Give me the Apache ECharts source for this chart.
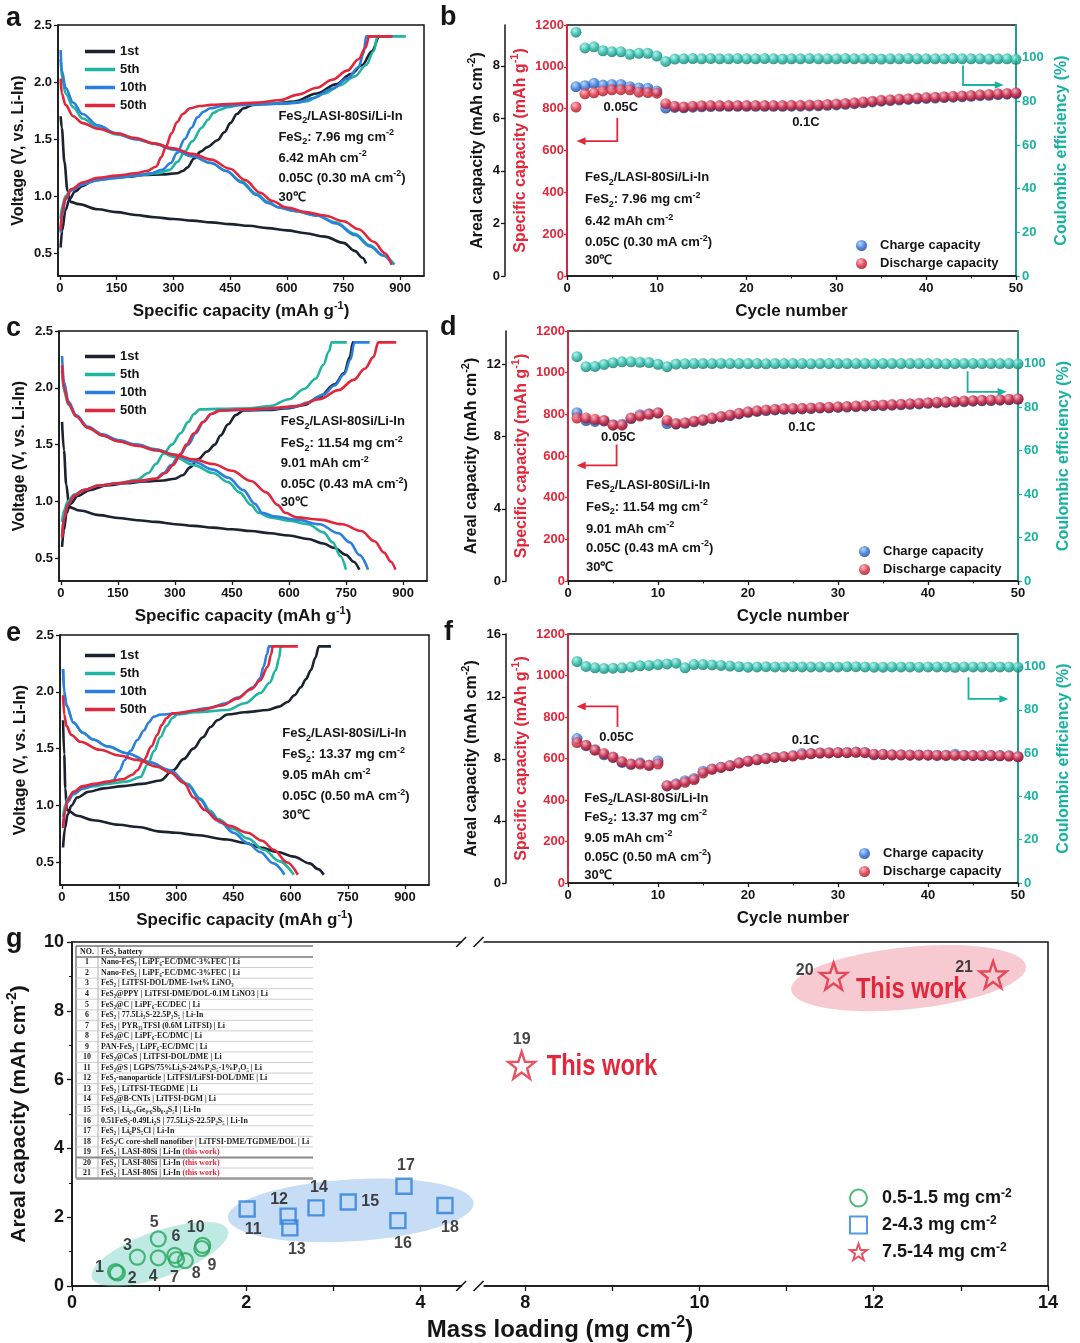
<!DOCTYPE html>
<html><head><meta charset="utf-8">
<script src="https://cdn.jsdelivr.net/npm/echarts@6/dist/echarts.min.js"></script>
<style>html,body{margin:0;padding:0;background:#fff}#c{width:1080px;height:1343px}</style>
</head><body><div id="c"></div>
<script>
// ---------------- DATA ----------------
// Panel a (7.96 mg cm-2) voltage profiles [capacity mAh/g, V]
const a1Dis = [[2,1.7],[5,1.6],[12,1.3],[20,1.05],[28,0.95],[50,0.93],[100,0.885],[150,0.86],[200,0.835],[250,0.815],[300,0.8],[350,0.785],[400,0.77],[450,0.755],[500,0.74],[550,0.72],[600,0.7],[650,0.675],[700,0.645],[750,0.59],[780,0.52],[800,0.46],[810,0.41]];
const a1Chg = [[2,0.55],[6,0.7],[15,0.88],[25,0.97],[40,1.04],[60,1.09],[90,1.14],[130,1.16],[180,1.17],[222,1.185],[270,1.19],[310,1.2],[325,1.22],[337,1.25],[355,1.33],[372,1.39],[390,1.43],[417,1.49],[435,1.56],[451,1.64],[468,1.72],[486,1.77],[510,1.8],[560,1.81],[620,1.83],[680,1.9],[730,1.98],[770,2.07],[800,2.15],[825,2.27],[845,2.4],[852,2.4]];
const a5Dis = [[2,2.2],[5,2.05],[15,1.9],[35,1.78],[60,1.68],[100,1.6],[150,1.54],[200,1.5],[250,1.46],[300,1.41],[350,1.35],[400,1.29],[440,1.22],[480,1.13],[520,1.02],[550,0.95],[580,0.9],[620,0.87],[680,0.83],[730,0.77],[780,0.67],[820,0.57],[855,0.48],[885,0.4]];
const a5Chg = [[2,0.8],[5,0.9],[15,1.0],[30,1.06],[60,1.11],[100,1.14],[150,1.16],[200,1.18],[260,1.2],[290,1.23],[311,1.3],[330,1.39],[350,1.48],[375,1.6],[392,1.67],[406,1.73],[425,1.76],[443,1.78],[480,1.8],[540,1.81],[600,1.815],[650,1.83],[700,1.9],[740,1.97],[780,2.05],[810,2.15],[830,2.27],[840,2.4],[915,2.4]];
const a10Dis = [[2,2.28],[5,2.1],[15,1.95],[35,1.82],[60,1.72],[100,1.62],[150,1.55],[200,1.5],[250,1.46],[300,1.41],[350,1.35],[400,1.29],[440,1.22],[480,1.12],[520,1.01],[550,0.94],[580,0.9],[620,0.87],[680,0.83],[730,0.76],[780,0.66],[820,0.56],[855,0.48],[880,0.4]];
const a10Chg = [[2,0.68],[5,0.82],[15,0.97],[30,1.05],[60,1.1],[100,1.14],[150,1.16],[200,1.18],[240,1.2],[270,1.23],[293,1.29],[310,1.38],[330,1.5],[348,1.6],[364,1.69],[380,1.74],[398,1.77],[430,1.79],[470,1.8],[540,1.805],[590,1.81],[630,1.82],[670,1.86],[720,1.94],[760,2.03],[790,2.13],[803,2.25],[810,2.4],[878,2.4]];
const a50Dis = [[2,2.03],[5,1.9],[15,1.8],[35,1.7],[60,1.64],[100,1.59],[150,1.55],[200,1.51],[250,1.46],[300,1.42],[350,1.37],[400,1.32],[450,1.24],[490,1.14],[530,1.03],[560,0.96],[600,0.9],[650,0.86],[700,0.83],[750,0.78],[790,0.71],[830,0.6],[860,0.5],[877,0.4]];
const a50Chg = [[2,0.7],[5,0.85],[15,0.98],[30,1.06],[60,1.12],[100,1.16],[150,1.18],[200,1.2],[230,1.22],[255,1.26],[268,1.34],[280,1.43],[295,1.55],[310,1.65],[325,1.72],[345,1.77],[370,1.79],[400,1.8],[460,1.81],[520,1.82],[580,1.84],[630,1.89],[680,1.95],[720,2.02],[760,2.1],[790,2.2],[808,2.3],[818,2.4],[880,2.4]];
// Panel c (11.54 mg cm-2)
const c1Dis = [[3,1.7],[8,1.45],[14,1.15],[22,0.95],[50,0.92],[100,0.88],[150,0.855],[200,0.835],[250,0.82],[300,0.8],[350,0.785],[400,0.77],[450,0.755],[500,0.74],[550,0.72],[600,0.7],[650,0.67],[690,0.63],[720,0.59],[750,0.53],[770,0.47],[785,0.4]];
const c1Chg = [[3,0.6],[8,0.75],[15,0.9],[25,0.98],[45,1.05],[75,1.1],[120,1.14],[170,1.16],[220,1.175],[270,1.185],[300,1.2],[320,1.23],[340,1.3],[360,1.37],[385,1.44],[405,1.5],[420,1.58],[440,1.68],[460,1.76],[480,1.8],[540,1.805],[600,1.82],[640,1.85],[680,1.92],[720,2.03],[745,2.13],[760,2.27],[768,2.4],[775,2.4]];
const c5Dis = [[3,2.15],[8,1.97],[20,1.85],[40,1.75],[70,1.65],[110,1.58],[150,1.53],[200,1.5],[250,1.45],[300,1.39],[350,1.32],[400,1.25],[440,1.17],[470,1.08],[500,0.97],[520,0.9],[550,0.86],[600,0.83],[650,0.8],[690,0.73],[715,0.64],[735,0.52],[750,0.4]];
const c5Chg = [[3,0.82],[8,0.92],[18,1.0],[35,1.06],[60,1.1],[100,1.14],[150,1.16],[200,1.19],[230,1.25],[250,1.33],[270,1.42],[292,1.5],[315,1.6],[335,1.7],[350,1.77],[365,1.81],[420,1.815],[500,1.82],[550,1.84],[600,1.9],[640,1.99],[670,2.08],[690,2.2],[705,2.32],[712,2.4],[752,2.4]];
const c10Dis = [[3,2.28],[8,2.05],[20,1.88],[40,1.76],[70,1.66],[110,1.59],[150,1.54],[200,1.5],[250,1.46],[300,1.41],[350,1.35],[400,1.28],[440,1.21],[480,1.1],[510,0.98],[530,0.9],[560,0.87],[620,0.84],[680,0.8],[730,0.72],[760,0.64],[785,0.53],[808,0.4]];
const c10Chg = [[3,0.7],[8,0.85],[18,0.97],[35,1.05],[60,1.1],[100,1.14],[150,1.16],[200,1.175],[250,1.2],[270,1.25],[290,1.32],[310,1.4],[335,1.5],[355,1.6],[375,1.7],[395,1.77],[415,1.8],[480,1.805],[550,1.815],[610,1.83],[650,1.87],[690,1.94],[720,2.02],[745,2.12],[762,2.25],[772,2.4],[812,2.4]];
const c50Dis = [[3,2.2],[8,2.0],[20,1.86],[40,1.75],[70,1.65],[110,1.58],[150,1.53],[200,1.49],[250,1.45],[300,1.41],[350,1.37],[400,1.33],[450,1.27],[500,1.18],[540,1.08],[570,0.97],[590,0.9],[620,0.86],[680,0.84],[740,0.8],[790,0.74],[825,0.65],[850,0.55],[868,0.47],[880,0.4]];
const c50Chg = [[3,0.68],[8,0.85],[18,0.97],[35,1.05],[60,1.1],[100,1.14],[150,1.16],[200,1.18],[250,1.2],[275,1.25],[295,1.32],[315,1.42],[330,1.5],[350,1.6],[375,1.7],[395,1.77],[420,1.8],[480,1.81],[550,1.82],[620,1.84],[680,1.9],[730,1.98],[770,2.07],[800,2.17],[822,2.27],[835,2.4],[882,2.4]];
// Panel e (13.37 mg cm-2)
const e1Dis = [[3,1.75],[6,1.45],[9,1.15],[13,0.96],[40,0.91],[82,0.87],[150,0.83],[200,0.81],[258,0.77],[300,0.76],[350,0.74],[434,0.7],[480,0.67],[521,0.63],[565,0.59],[608,0.55],[650,0.49],[672,0.44],[687,0.39]];
const e1Chg = [[3,0.63],[8,0.8],[15,0.92],[25,1.0],[40,1.07],[70,1.12],[110,1.15],[160,1.17],[210,1.19],[258,1.22],[292,1.31],[320,1.41],[345,1.5],[370,1.6],[390,1.69],[408,1.75],[434,1.8],[480,1.82],[540,1.84],[570,1.87],[592,1.91],[610,1.97],[627,2.04],[640,2.11],[653,2.19],[665,2.3],[674,2.4],[706,2.4]];
const e5Dis = [[3,2.2],[6,2.0],[12,1.88],[30,1.73],[55,1.64],[82,1.58],[120,1.52],[171,1.46],[230,1.38],[284,1.31],[330,1.19],[363,1.06],[390,0.95],[410,0.88],[450,0.79],[487,0.71],[530,0.61],[570,0.51],[608,0.39]];
const e5Chg = [[3,0.9],[8,1.0],[15,1.06],[30,1.11],[55,1.15],[85,1.17],[120,1.19],[170,1.21],[206,1.25],[225,1.36],[242,1.48],[258,1.6],[275,1.7],[290,1.77],[303,1.8],[350,1.82],[434,1.84],[480,1.9],[521,1.99],[545,2.08],[561,2.19],[570,2.3],[574,2.4],[580,2.4]];
const e10Dis = [[3,2.2],[6,2.0],[12,1.88],[30,1.73],[55,1.64],[82,1.58],[120,1.52],[171,1.46],[230,1.38],[284,1.31],[330,1.18],[363,1.05],[390,0.93],[416,0.85],[450,0.76],[487,0.67],[520,0.59],[555,0.49],[584,0.39]];
const e10Chg = [[3,0.82],[8,0.95],[15,1.03],[30,1.1],[55,1.15],[85,1.18],[115,1.2],[134,1.22],[150,1.3],[165,1.4],[180,1.48],[198,1.576],[215,1.66],[228,1.73],[240,1.78],[260,1.8],[303,1.81],[390,1.86],[430,1.9],[461,1.95],[503,2.04],[520,2.12],[529,2.22],[538,2.33],[543,2.4],[556,2.4]];
const e50Dis = [[3,1.97],[6,1.8],[12,1.7],[25,1.62],[48,1.56],[100,1.49],[150,1.44],[198,1.4],[250,1.34],[284,1.29],[320,1.2],[345,1.07],[375,0.96],[408,0.87],[440,0.82],[487,0.76],[525,0.69],[556,0.61],[590,0.5],[619,0.39]];
const e50Chg = [[3,0.8],[8,0.95],[15,1.05],[30,1.12],[55,1.17],[85,1.19],[120,1.21],[160,1.23],[185,1.27],[198,1.31],[215,1.4],[235,1.52],[250,1.62],[262,1.71],[275,1.77],[290,1.81],[363,1.84],[420,1.88],[460,1.94],[495,2.02],[520,2.1],[540,2.22],[549,2.33],[553,2.4],[619,2.4]];

// Cycling data (b, d, f)
const cycles = [1,2,3,4,5,6,7,8,9,10,11,12,13,14,15,16,17,18,19,20,21,22,23,24,25,26,27,28,29,30,31,32,33,34,35,36,37,38,39,40,41,42,43,44,45,46,47,48,49,50];
const bCharge = [905,910,921,913,915,916,905,899,898,885,803,806,804,807,809,810,811,811,811,811,811,811,811,811,812,812,813,814,816,818,821,824,828,832,836,839,842,844,847,849,851,853,855,857,859,862,864,867,869,872];
const bDischarge = [808,871,876,885,890,891,890,879,877,874,824,811,808,812,814,815,815,815,815,815,815,815,815,815,816,816,817,818,820,822,825,828,832,836,840,843,846,848,851,853,855,857,859,861,863,866,868,871,873,876];
const bCE = [111.7,104.5,105.0,103.2,102.8,102.7,101.6,102.0,102.0,100.8,98.3,99.4,99.5,99.6,99.5,99.6,99.5,99.5,99.6,99.5,99.5,99.6,99.5,99.4,99.5,99.5,99.6,99.5,99.5,99.5,99.6,99.5,99.5,99.5,99.4,99.5,99.5,99.6,99.5,99.5,99.5,99.5,99.6,99.5,99.5,99.5,99.4,99.5,99.5,99.3];
const dCharge = [808,770,766,768,750,753,780,798,803,806,756,753,757,764,771,779,787,794,802,809,814,818,821,824,825,826,828,830,831,833,835,837,839,841,842,844,846,848,850,853,855,857,859,861,863,865,866,868,870,872];
const dDischarge = [782,782,776,771,748,748,782,792,800,808,771,756,760,767,774,782,790,797,805,812,817,821,824,827,828,829,831,833,834,836,838,840,842,844,845,847,849,851,853,856,858,860,862,864,866,868,869,871,873,875];
const dCE = [103.2,98.6,98.7,99.6,100.4,100.8,100.8,100.6,100.5,99.7,98.6,99.8,99.9,100.0,100.0,100.0,100.1,100.0,100.0,100.0,100.0,99.9,100.0,100.0,100.0,100.0,99.9,100.0,100.0,100.0,100.0,100.0,100.0,99.9,100.0,100.0,100.0,100.0,100.0,100.0,100.0,99.9,100.0,100.0,100.0,100.0,100.0,100.0,100.0,99.9];
const fCharge = [696,662,642,618,605,581,572,579,568,588,468,478,493,504,539,550,558,566,579,588,595,601,606,609,613,624,624,627,628,629,629,631,629,618,620,618,618,617,617,617,616,616,620,616,615,615,615,614,613,609];
const fDischarge = [677,664,640,624,607,585,573,573,567,573,469,474,485,498,530,548,557,565,578,587,594,600,605,608,612,618,623,626,627,628,628,630,628,621,619,617,617,616,616,616,615,615,615,615,614,614,614,613,612,608];
const fCE = [102.3,100.0,99.4,99.1,99.2,99.4,99.8,100.3,100.5,100.9,101.2,101.5,99.4,100.9,100.9,100.7,100.5,100.2,99.9,99.7,99.8,99.9,99.8,99.8,99.9,99.8,99.8,99.8,99.8,99.8,99.9,99.9,99.8,99.7,99.7,99.8,99.8,99.8,99.7,99.8,99.8,99.8,99.6,99.8,99.8,99.8,99.8,99.8,99.8,99.7];
const loadings = [7.96, 11.54, 13.37];      // mg cm-2 for b, d, f
const arealCap = ['6.42', '9.01', '9.05'];  // mAh cm-2
const currents = ['0.30', '0.43', '0.50'];  // mA cm-2

// Panel g comparison
const circlePts = [[0.5,0.42],[0.52,0.38],[0.75,0.84],[0.99,0.82],[0.99,1.37],[1.18,0.89],[1.2,0.77],[1.3,0.74],[1.49,1.09],[1.5,1.18]];
const circleNo = ['1','2','3','4','5','6','7','8','9','10'];
const squarePts = [[2.01,2.24],[2.48,2.03],[2.5,1.69],[2.8,2.27],[3.17,2.44],[3.74,1.9],[3.81,2.9],[4.28,2.34]];
const squareNo = ['11','12','13','14','15','16','17','18'];
const starPts = [[7.96,6.42],[11.54,9.01],[13.37,9.05]];
const starNo = ['19','20','21'];
const gNames = ['0.5-1.5 mg cm-2', '2-4.3 mg cm-2', '7.5-14 mg cm-2'];
const gXLabels = [0, 2, 4, 8, 10, 12, 14];
const gXMinor = [1, 3, 9, 11, 13];
const tableRows = [
 'Nano-FeS₂ | LiPF₆-EC/DMC-3%FEC | Li','Nano-FeS₂ | LiPF₆-EC/DMC-3%FEC | Li','FeS₂ | LiTFSI-DOL/DME-1wt% LiNO₃',
 'FeS₂@PPY | LiTFSI-DME/DOL-0.1M LiNO3 | Li','FeS₂@C | LiPF₆-EC/DEC | Li','FeS₂ | 77.5Li₂S-22.5P₂S₅ | Li-In',
 'FeS₂ | PYR₁₃TFSI (0.6M LiTFSI) | Li','FeS₂@C | LiPF₆-EC/DMC | Li','PAN-FeS₂ | LiPF₆-EC/DMC | Li',
 'FeS₂@CoS | LiTFSI-DOL/DME | Li','FeS₂@S | LGPS/75%Li₂S-24%P₂S₅-1%P₂O₅ | Li','FeS₂-nanoparticle | LiTFSI/LiFSI-DOL/DME | Li',
 'FeS₂ | LiTFSI-TEGDME | Li','FeS₂@B-CNTs | LiTFSI-DGM | Li','FeS₂ | Li₆.₆Ge₀.₆Sb₀.₄S₅I | Li-In',
 '0.51FeS₂-0.49Li₂S | 77.5Li₂S-22.5P₂S₅ | Li-In','FeS₂ | Li₆PS₅Cl | Li-In','FeS₂/C core-shell nanofiber | LiTFSI-DME/TGDME/DOL | Li',
 'FeS₂ | LASI-80Si | Li-In','FeS₂ | LASI-80Si | Li-In','FeS₂ | LASI-80Si | Li-In'];

// ---------------- STYLE ----------------
const FONT = '"Liberation Sans", Arial, Helvetica, sans-serif';
const NARROW = '"Liberation Sans Narrow", "Liberation Sans", Arial, sans-serif';
const SERIF = '"Liberation Serif", "Times New Roman", serif';
const BLACK = '#151515', RED = '#e2273b', TEAL = '#19b2a0', BLUE = '#2a80dc', GREEN = '#26a65b', DARK = '#1b2230';
const CYC_COL = {'1st': DARK, '5th': '#1fb5a0', '10th': '#2b7fdd', '50th': '#e2263b'};
// axis break in panel g (mg cm-2)
const BRK_LO = 4.5, BRK_HI = 7.5, BRK_GAP = 0.2;
const gx = x => x <= BRK_LO ? x : x - (BRK_HI - BRK_LO) + BRK_GAP;
const gxInv = v => v <= BRK_LO + 0.01 ? v : v + (BRK_HI - BRK_LO) - BRK_GAP;

function rich(size, color, family) {
  const s = Math.round(size * 0.66);
  return {
    sup: {fontSize: s, fontWeight: 'bold', fontFamily: family, color: color, verticalAlign: 'top'},
    sub: {fontSize: s, fontWeight: 'bold', fontFamily: family, color: color, verticalAlign: 'bottom'}
  };
}
function nameStyle(size, color, family, lh) {
  return {fontSize: size, fontWeight: 'bold', fontFamily: family || FONT, color: color, lineHeight: lh || Math.round(size * 1.35), rich: rich(size, color, family || FONT)};
}
function lbl(color, size, family) { return {fontSize: size || 13, fontWeight: 'bold', fontFamily: family || FONT, color: color}; }
function sphere(light, base, dark) {
  return {type: 'radial', x: 0.38, y: 0.32, r: 0.72, colorStops: [{offset: 0, color: light}, {offset: 0.55, color: base}, {offset: 1, color: dark}]};
}

const grids = [
  {left: 58, top: 25, width: 366, height: 251},
  {left: 567, top: 25, width: 449, height: 251},
  {left: 59, top: 331, width: 368, height: 250},
  {left: 568, top: 331, width: 450, height: 250},
  {left: 60, top: 635, width: 369, height: 250},
  {left: 568, top: 634, width: 450, height: 249},
  {left: 72, top: 942, width: 976, height: 344}
].map(g => Object.assign({show: true, borderColor: BLACK, borderWidth: 1.5, backgroundColor: 'transparent', outerBoundsMode: 'none', containLabel: false}, g));

const xAxes = [], yAxes = [], series = [];
const capTicks = [0, 150, 300, 450, 600, 750, 900];
const vTicks = [0.5, 1.0, 1.5, 2.0, 2.5];

function leftPanel(gi, curves) {
  const xi = xAxes.length, yi = yAxes.length;
  xAxes.push({gridIndex: gi, type: 'value', min: -5, max: 963,
    axisLine: {show: true, onZero: false, lineStyle: {color: BLACK, width: 1.5}},
    axisTick: {show: true, length: 4, customValues: capTicks, lineStyle: {color: BLACK, width: 1.3}},
    axisLabel: Object.assign({customValues: capTicks, margin: 6}, lbl(BLACK, 13)),
    splitLine: {show: false},
    name: 'Specific capacity (mAh g{sup|-1})', nameLocation: 'middle', nameGap: 24, nameTextStyle: nameStyle(17, BLACK, FONT, 22)});
  yAxes.push({gridIndex: gi, type: 'value', min: 0.3, max: 2.5,
    axisLine: {show: true, onZero: false, lineStyle: {color: BLACK, width: 1.5}},
    axisTick: {show: true, length: 4, customValues: vTicks, lineStyle: {color: BLACK, width: 1.3}},
    axisLabel: Object.assign({customValues: vTicks, margin: 6, formatter: v => v.toFixed(1)}, lbl(BLACK, 13)),
    splitLine: {show: false},
    name: 'Voltage (V, vs. Li-In)', nameLocation: 'middle', nameRotate: 90, nameGap: 24, nameTextStyle: nameStyle(16, BLACK)});
  curves.forEach(([name, dis, chg]) => {
    [dis, chg].forEach(d => series.push({type: 'line', name: name, xAxisIndex: xi, yAxisIndex: yi, data: d,
      symbol: 'none', showSymbol: false, smooth: 0.35, smoothMonotone: 'x', clip: true,
      lineStyle: {color: CYC_COL[name], width: 2.6}, itemStyle: {color: CYC_COL[name]}}));
  });
}

function rightPanel(gi, loading, charge, discharge, ce, arealTicks) {
  const xi = xAxes.length, yi = yAxes.length;
  xAxes.push({gridIndex: gi, type: 'value', min: 0, max: 50, interval: 10,
    axisLine: {show: true, onZero: false, lineStyle: {color: BLACK, width: 1.5}},
    axisTick: {show: true, length: 4, lineStyle: {color: BLACK, width: 1.3}},
    minorTick: {show: true, splitNumber: 2, length: 2.5, lineStyle: {color: BLACK, width: 1}},
    axisLabel: Object.assign({margin: 6}, lbl(BLACK, 13)), splitLine: {show: false},
    name: 'Cycle number', nameLocation: 'middle', nameGap: 24, nameTextStyle: nameStyle(17, BLACK, FONT, 22)});
  // specific capacity (red)
  yAxes.push({gridIndex: gi, type: 'value', position: 'left', min: 0, max: 1200, interval: 200,
    axisLine: {show: true, onZero: false, lineStyle: {color: RED, width: 1.6}},
    axisTick: {show: true, length: 3, lineStyle: {color: RED, width: 1.3}},
    axisLabel: Object.assign({margin: 3, formatter: v => String(v)}, lbl(RED, 13)), splitLine: {show: false},
    name: 'Specific capacity (mAh g{sup|-1})', nameLocation: 'middle', nameRotate: 90, nameGap: 32, nameTextStyle: nameStyle(16, RED)});
  // areal capacity (black, offset)
  const aMax = 1200 * loading / 1000;
  yAxes.push({gridIndex: gi, type: 'value', position: 'left', offset: 62, min: 0, max: aMax,
    axisLine: {show: true, onZero: false, lineStyle: {color: BLACK, width: 1.5}},
    axisTick: {show: true, length: 4, customValues: arealTicks, lineStyle: {color: BLACK, width: 1.3}},
    axisLabel: Object.assign({customValues: arealTicks, margin: 5, formatter: v => String(v)}, lbl(BLACK, 13)), splitLine: {show: false},
    name: 'Areal capacity (mAh cm{sup|-2})', nameLocation: 'middle', nameRotate: 90, nameGap: 14, nameTextStyle: nameStyle(16, BLACK)});
  // coulombic efficiency (teal)
  const ceTicks = [0, 20, 40, 60, 80, 100];
  yAxes.push({gridIndex: gi, type: 'value', position: 'right', min: 0, max: 115,
    axisLine: {show: true, onZero: false, lineStyle: {color: TEAL, width: 1.6}},
    axisTick: {show: true, length: 4, customValues: ceTicks, lineStyle: {color: TEAL, width: 1.3}},
    axisLabel: Object.assign({customValues: ceTicks, margin: 6}, lbl(TEAL, 13)), splitLine: {show: false},
    name: 'Coulombic efficiency (%)', nameLocation: 'middle', nameRotate: 90, nameGap: 35, nameTextStyle: nameStyle(16, TEAL)});
  const pair = arr => cycles.map((c, i) => [c, arr[i]]);
  series.push({type: 'scatter', name: 'Charge capacity', xAxisIndex: xi, yAxisIndex: yi, data: pair(charge), symbolSize: 11,
    itemStyle: {color: sphere('#a9cdff', '#2a6fd8', '#123f8a')}, z: 3});
  series.push({type: 'scatter', name: 'Discharge capacity', xAxisIndex: xi, yAxisIndex: yi, data: pair(discharge), symbolSize: 11,
    itemStyle: {color: sphere('#ffb0b8', '#e0283b', '#8e0f1d')}, z: 4});
  series.push({type: 'scatter', name: 'Coulombic efficiency', xAxisIndex: xi, yAxisIndex: yi + 2, data: pair(ce), symbolSize: 11,
    itemStyle: {color: sphere('#a2eee3', '#1bb3a0', '#0d6f63')}, z: 3});
}

leftPanel(0, [['1st', a1Dis, a1Chg], ['5th', a5Dis, a5Chg], ['10th', a10Dis, a10Chg], ['50th', a50Dis, a50Chg]]);
rightPanel(1, loadings[0], bCharge, bDischarge, bCE, [0, 2, 4, 6, 8]);
leftPanel(2, [['1st', c1Dis, c1Chg], ['5th', c5Dis, c5Chg], ['10th', c10Dis, c10Chg], ['50th', c50Dis, c50Chg]]);
rightPanel(3, loadings[1], dCharge, dDischarge, dCE, [0, 4, 8, 12]);
leftPanel(4, [['1st', e1Dis, e1Chg], ['5th', e5Dis, e5Chg], ['10th', e10Dis, e10Chg], ['50th', e50Dis, e50Chg]]);
rightPanel(5, loadings[2], fCharge, fDischarge, fCE, [0, 4, 8, 12, 16]);

// panel g axes
const gXi = xAxes.length, gYi = yAxes.length;
xAxes.push({gridIndex: 6, type: 'value', min: 0, max: gx(14),
  axisLine: {show: true, onZero: false, lineStyle: {color: BLACK, width: 1.5}},
  axisTick: {show: true, length: 5, customValues: gXLabels.concat(gXMinor).map(gx), lineStyle: {color: BLACK, width: 1.3}},
  axisLabel: Object.assign({customValues: gXLabels.map(gx), margin: 8, formatter: v => String(Math.round(gxInv(v)))}, lbl(BLACK, 18, NARROW)),
  splitLine: {show: false},
  name: 'Mass loading (mg cm{sup|-2})', nameLocation: 'middle', nameGap: 29, nameTextStyle: nameStyle(24, BLACK, NARROW, 30)});
yAxes.push({gridIndex: 6, type: 'value', min: 0, max: 10, interval: 2,
  axisLine: {show: true, onZero: false, lineStyle: {color: BLACK, width: 1.5}},
  axisTick: {show: true, length: 5, lineStyle: {color: BLACK, width: 1.3}},
  minorTick: {show: true, splitNumber: 2, length: 3, lineStyle: {color: BLACK, width: 1}},
  axisLabel: Object.assign({margin: 8}, lbl(BLACK, 18, NARROW)), splitLine: {show: false},
  name: 'Areal capacity (mAh cm{sup|-2})', nameLocation: 'middle', nameRotate: 90, nameGap: 30, nameTextStyle: nameStyle(21, BLACK, FONT, 28)});

const circleOff = [[-16,-4],[15,6],[-10,-12],[-5,19],[-4,-16],[1,-19],[-2,18],[11,13],[10,17],[-7,-18]];
const squareOff = [[6,21],[-9,-17],[7,22],[3,-20],[22,0],[5,23],[2,-21],[5,22]];
const starOff = [[0,-26],[-29,-5],[-29,-7]];
const STAR = 'path://M50,2 L61.8,36.2 L97.6,36.6 L69.1,58.3 L79.4,92.6 L50,72 L20.6,92.6 L30.9,58.3 L2.4,36.6 L38.2,36.2 Z';
function gSeries(name, pts, nos, offs, symbol, size, color, bw) {
  series.push({type: 'scatter', name: name, xAxisIndex: gXi, yAxisIndex: gYi, symbol: symbol, symbolSize: size,
    itemStyle: {color: 'rgba(255,255,255,0)', borderColor: color, borderWidth: bw}, z: 5,
    label: {show: true, position: 'inside', fontSize: 16, fontWeight: 'bold', fontFamily: FONT, color: BLACK},
    data: pts.map((p, i) => ({value: [gx(p[0]), p[1]], label: {formatter: nos[i], offset: offs[i]}}))});
}
gSeries(gNames[0], circlePts, circleNo, circleOff, 'circle', 15, GREEN, 2.2);
gSeries(gNames[1], squarePts, squareNo, squareOff, 'rect', 15, BLUE, 2.4);
gSeries(gNames[2], starPts, starNo, starOff, STAR, 27, RED, 2.4);

function cycLegend(top) {
  return {data: ['1st', '5th', '10th', '50th'], orient: 'vertical', left: 80, top: top, itemWidth: 30, itemHeight: 3.5, itemGap: 3, icon: 'rect',
    selectedMode: false, textStyle: {fontSize: 13, fontWeight: 'bold', fontFamily: FONT, color: BLACK, lineHeight: 15}};
}
function capLegend(left, top) {
  return {data: ['Charge capacity', 'Discharge capacity'], orient: 'vertical', left: left, top: top, itemWidth: 11, itemHeight: 11, itemGap: 5, icon: 'circle',
    selectedMode: false, textStyle: {fontSize: 13, fontWeight: 'bold', fontFamily: FONT, color: BLACK, lineHeight: 13, padding: [0, 0, 0, 8]}};
}
const legends = [cycLegend(39), cycLegend(344), cycLegend(643), capLegend(851, 234), capLegend(854, 540), capLegend(854, 842),
  {data: gNames, orient: 'vertical', left: 844, top: 1183, itemWidth: 17, itemHeight: 17, itemGap: 7, selectedMode: false,
   formatter: n => n.replace('cm-2', 'cm{sup|-2}'),
   textStyle: {fontSize: 18, fontWeight: 'bold', fontFamily: NARROW, color: BLACK, lineHeight: 20, padding: [0, 0, 0, 10], rich: rich(18, BLACK, NARROW)}}];

const option = {animation: false, backgroundColor: '#fff', textStyle: {fontFamily: FONT},
  grid: grids, xAxis: xAxes, yAxis: yAxes, series: series, legend: legends};

const chart = echarts.init(document.getElementById('c'), null, {renderer: 'canvas'});
chart.setOption(option);

// ---------------- ANNOTATIONS ----------------
const G = [];
const toPx = (xi, yi, p) => chart.convertToPixel({xAxisIndex: xi, yAxisIndex: yi}, p);
function gRich(size, color, family) {
  const s = Math.round(size * 0.68);
  return {sup: {fontSize: s, fontWeight: 'bold', fontFamily: family, fill: color, verticalAlign: 'top'},
          sub: {fontSize: s, fontWeight: 'bold', fontFamily: family, fill: color, verticalAlign: 'bottom'},
          red: {fontSize: size, fontWeight: 'bold', fontFamily: family, fill: RED}};
}
function text(x, y, s, o) {
  o = o || {};
  const size = o.size || 13, color = o.color || BLACK, fam = o.family || FONT;
  G.push({type: 'text', x: x, y: y, z: 100, silent: true, scaleX: o.sx || 1,
    style: {text: s, fontSize: size, fontWeight: o.weight || 'bold', fontFamily: fam, fill: color,
    align: o.align || 'left', verticalAlign: o.va || 'middle', lineHeight: o.lh || Math.round(size * 1.4), rich: gRich(size, color, fam)}});
}
function arrow(pts, color) {
  G.push({type: 'polyline', z: 60, silent: true, shape: {points: pts}, style: {stroke: color, lineWidth: 1.8, fill: null}});
  const p1 = pts[pts.length - 2], p2 = pts[pts.length - 1];
  const dx = Math.sign(p2[0] - p1[0]);
  G.push({type: 'polygon', z: 60, silent: true, shape: {points: [[p2[0] + dx * 3, p2[1]], [p2[0] - dx * 6, p2[1] - 3.8], [p2[0] - dx * 6, p2[1] + 3.8]]}, style: {fill: color}});
}

// panel letters
[['a', 6, 19], ['b', 440, 18], ['c', 6, 329], ['d', 440, 328], ['e', 6, 634], ['f', 444, 633], ['g', 6, 940]]
  .forEach(([t, x, y]) => text(x, y, t, {size: 27}));

// info blocks
function info(xi, yi, anchor, k, offs) {
  const p = toPx(xi, yi, anchor);
  const lines = ['FeS{sub|2}/LASI-80Si/Li-In', 'FeS{sub|2}: ' + loadings[k].toFixed(2) + ' mg cm{sup|-2}', arealCap[k] + ' mAh cm{sup|-2}',
    '0.05C (' + currents[k] + ' mA cm{sup|-2})', '30℃'];
  lines.forEach((s, i) => text(p[0], p[1] + offs[i], s, {size: 13, lh: 18}));
}
// axis indices: a x0 y0; b x1 y1(spec) y2 y3(CE); c x2 y4; d x3 y5..y7; e x4 y8; f x5 y9..y11
info(0, 0, [578, 1.70], 0, [0, 21, 42, 62, 81]);
info(2, 4, [578, 1.70], 1, [0, 22, 42, 63, 81]);
info(4, 8, [578, 1.63], 2, [0, 21, 42, 63, 82]);
info(1, 1, [2.0, 469], 0, [0, 22, 44, 65, 83]);
info(3, 5, [2.0, 461], 1, [0, 22, 44, 63, 82]);
info(5, 9, [1.8, 410], 2, [0, 19, 40, 59, 77]);

// rate labels and arrows in b, d, f
const rateAnn = [
  {xi: 1, ys: 1, yc: 3, r05: [6.0, 808], r01: [26.6, 736], red: [[5.6, 755], [5.6, 645], [1.4, 645]], teal: [[44.1, 96.5], [44.1, 87.5], [48.3, 87.5]]},
  {xi: 3, ys: 5, yc: 7, r05: [5.6, 690], r01: [26.0, 735], red: [[5.4, 655], [5.4, 555], [1.3, 555]], teal: [[44.4, 96.5], [44.4, 87.0], [48.4, 87.0]]},
  {xi: 5, ys: 9, yc: 11, r05: [5.4, 703], r01: [26.4, 685], red: [[5.5, 752], [5.5, 851], [1.3, 851]], teal: [[44.5, 95.0], [44.5, 85.0], [48.6, 85.0]]}
];
rateAnn.forEach(a => {
  const p05 = toPx(a.xi, a.ys, a.r05), p01 = toPx(a.xi, a.ys, a.r01);
  text(p05[0], p05[1], '0.05C', {align: 'center'});
  text(p01[0], p01[1], '0.1C', {align: 'center'});
  arrow(a.red.map(q => toPx(a.xi, a.ys, q)), RED);
  arrow(a.teal.map(q => toPx(a.xi, a.yc, q)), TEAL);
});

// panel g: ellipses
const ellipses = [
  {c: [1.01, 0.93], rx: 72, ry: 23, rot: 0.34, fill: 'rgba(112,208,192,0.45)'},
  {c: [3.2, 2.2], rx: 123, ry: 31, rot: 0.06, fill: 'rgba(130,178,232,0.45)'},
  {c: [12.4, 8.95], rx: 118, ry: 31, rot: 0.1, fill: 'rgba(236,128,148,0.42)'}
];
ellipses.forEach(e => {
  const p = toPx(gXi, gYi, [gx(e.c[0]), e.c[1]]);
  G.push({type: 'ellipse', z: 1, silent: true, x: p[0], y: p[1], rotation: e.rot, shape: {cx: 0, cy: 0, rx: e.rx, ry: e.ry}, style: {fill: e.fill}});
});
// "This work" labels
{
  const p19 = toPx(gXi, gYi, [gx(starPts[0][0]), starPts[0][1]]);
  text(p19[0] + 25, p19[1] + 2, 'This work', {size: 30, color: RED, family: NARROW, sx: 0.79});
  const p2021 = toPx(gXi, gYi, [gx(12.43), 8.6]);
  text(p2021[0], p2021[1], 'This work', {size: 30, color: RED, family: NARROW, align: 'center', sx: 0.79});
}
// axis break marks
{
  const yTop = toPx(gXi, gYi, [0, 10])[1], yBot = toPx(gXi, gYi, [0, 0])[1];
  const xa = toPx(gXi, gYi, [BRK_LO, 0])[0], xb = toPx(gXi, gYi, [BRK_LO + BRK_GAP, 0])[0];
  [yTop, yBot].forEach(y => {
    G.push({type: 'rect', z: 70, silent: true, shape: {x: xa - 2, y: y - 3, width: xb - xa + 4, height: 6}, style: {fill: '#fff'}});
    [xa - 3, xb - 3].forEach(x => G.push({type: 'line', z: 71, silent: true, shape: {x1: x - 5, y1: y + 5, x2: x + 5, y2: y - 5}, style: {stroke: BLACK, lineWidth: 1.6}}));
  });
}
// inset table
{
  const x0 = 76, x1 = 313, xNum = 87, xTxt = 101, y0 = 946, hHead = 11, hRow = 10.55;
  const hl = (y, color, w) => G.push({type: 'line', z: 20, silent: true, shape: {x1: x0, y1: y, x2: x1, y2: y}, style: {stroke: color, lineWidth: w}});
  const yEnd = y0 + hHead + hRow * tableRows.length;
  G.push({type: 'rect', z: 19, silent: true, shape: {x: x0, y: y0, width: x1 - x0, height: yEnd - y0}, style: {fill: '#fff'}});
  G.push({type: 'line', z: 20, silent: true, shape: {x1: x0, y1: y0, x2: x0, y2: yEnd}, style: {stroke: '#555', lineWidth: 1.1}});
  G.push({type: 'line', z: 20, silent: true, shape: {x1: 98, y1: y0, x2: 98, y2: yEnd}, style: {stroke: '#888', lineWidth: 0.7}});
  hl(y0, '#333', 1.2);
  hl(y0 + hHead, '#777', 1.4);
  const tfont = {size: 7.9, family: SERIF, lh: 9, color: '#1a1a1a'};
  text(xNum, y0 + hHead / 2, 'NO.', Object.assign({align: 'center'}, tfont));
  text(xTxt, y0 + hHead / 2, 'FeS₂ battery', tfont);
  tableRows.forEach((s, i) => {
    const yc = y0 + hHead + hRow * (i + 0.5);
    text(xNum, yc, String(i + 1), Object.assign({align: 'center'}, tfont));
    text(xTxt, yc, i >= 18 ? s + ' {red|(this work)}' : s, tfont);
    const yl = y0 + hHead + hRow * (i + 1);
    if (i === 18) hl(yl, '#888', 2);
    else if (i === tableRows.length - 1) hl(yl, '#999', 2.6);
    else hl(yl, '#c8c8c8', 0.9);
  });
}
chart.setOption({graphic: {elements: G}});
</script></body></html>
